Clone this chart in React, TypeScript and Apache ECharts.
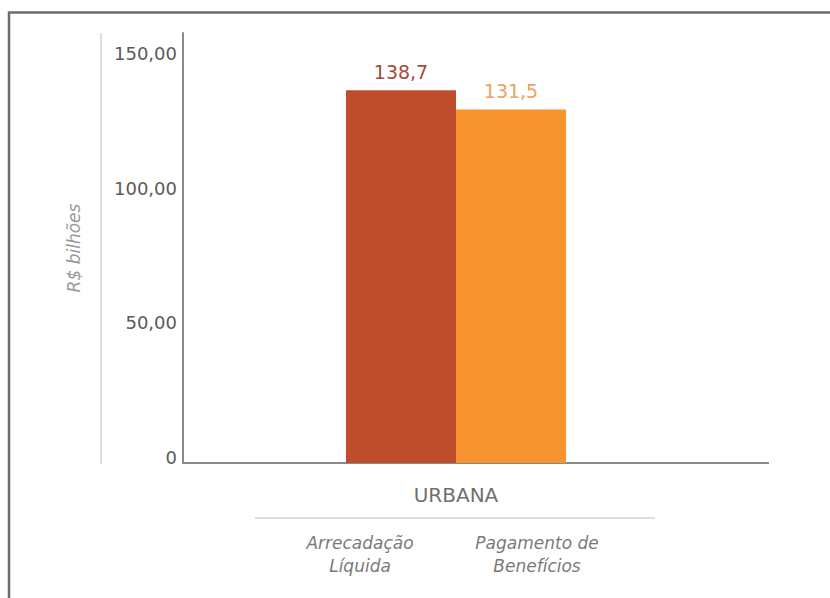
import React, { useEffect, useRef } from "react";
import * as echarts from "echarts";

const categories = ["URBANA"];
const seriesNames = ["Arrecadação\nLíquida", "Pagamento de\nBenefícios"];
const seriesValues = [138.7, 131.5];
const seriesColors = ["#bf4d2c", "#f7942f"];
const labelColors = ["#a84a36", "#eba162"];
const yTicks = [0, 50, 100, 150];
const yName = "R$ bilhões";

const fmtTick = (v: number) => (v === 0 ? "0" : v.toFixed(2).replace(".", ","));
const fmtVal = (v: number) => v.toFixed(1).replace(".", ",");

export default function App() {
  const ref = useRef<HTMLDivElement>(null);
  useEffect(() => {
    if (!ref.current) return;
    const chart = echarts.init(ref.current, null, { renderer: "svg" });
    const font = "DejaVu Sans";
    const gridLeft = 183;
    const gridRight = 729;
    const gridTop = 33;
    const gridBottom = 463;
    const subX = [360, 537];
    chart.setOption({
      animation: false,
      backgroundColor: "#ffffff",
      textStyle: { fontFamily: font },
      grid: {
        left: gridLeft,
        right: 830 - gridRight,
        top: gridTop,
        bottom: 598 - gridBottom,
        containLabel: false,
      },
      xAxis: {
        type: "category",
        data: categories,
        axisLine: { show: true, lineStyle: { color: "#8a8a8a", width: 2 } },
        axisTick: { show: false },
        axisLabel: { color: "#6f6f6f", fontSize: 20, margin: 22, fontFamily: font },
      },
      yAxis: {
        type: "value",
        min: 0,
        max: 160,
        interval: 50,
        name: yName,
        nameLocation: "middle",
        nameGap: 101,
        nameTextStyle: { color: "#9a9a9a", fontSize: 17, fontStyle: "italic", fontFamily: font },
        axisLine: { show: true, lineStyle: { color: "#8a8a8a", width: 2 } },
        axisTick: { show: false },
        splitLine: { show: false },
        axisLabel: {
          showMaxLabel: false,
          color: "#5a5a5a",
          fontSize: 18,
          margin: 6,
          fontFamily: font,
          verticalAlign: "bottom",
          lineHeight: 12,
          formatter: (v: number) => (yTicks.includes(v) ? fmtTick(v) : ""),
        },
      },
      series: seriesValues.map((v, i) => ({
        type: "bar",
        name: seriesNames[i],
        data: [v],
        barWidth: 110,
        barGap: "0%",
        itemStyle: { color: seriesColors[i] },
        label: {
          show: true,
          position: "top",
          distance: 9,
          color: labelColors[i],
          fontSize: 19,
          fontFamily: font,
          formatter: (p: any) => fmtVal(p.value),
        },
      })),
      graphic: [
        {
          type: "polyline",
          shape: { points: [[9, 598], [9, 12.5], [830, 12.5]] },
          style: { stroke: "#6b6b6b", lineWidth: 2.5, fill: "none" },
          silent: true,
        },
        {
          type: "line",
          shape: { x1: 101, y1: gridTop, x2: 101, y2: gridBottom + 1 },
          style: { stroke: "#d2d2d2", lineWidth: 1.5 },
          silent: true,
        },
        {
          type: "line",
          shape: { x1: gridRight - 1, y1: gridBottom, x2: 769, y2: gridBottom },
          style: { stroke: "#8a8a8a", lineWidth: 2 },
          silent: true,
        },
        {
          type: "line",
          shape: { x1: 255, y1: 518, x2: 655, y2: 518 },
          style: { stroke: "#d4d4d4", lineWidth: 1.5 },
          silent: true,
        },
        ...seriesNames.map((n, i) => ({
          type: "text",
          x: subX[i],
          y: 531,
          style: {
            text: n,
            fill: "#7a7a7a",
            font: `italic 17px "${font}"`,
            align: "center",
            verticalAlign: "top",
            lineHeight: 23,
          },
          silent: true,
        })),
      ],
    });
    return () => chart.dispose();
  }, []);
  return (
    <div
      ref={ref}
      style={{ position: "fixed", left: 0, top: 0, width: 830, height: 598, background: "#fff" }}
    />
  );
}
